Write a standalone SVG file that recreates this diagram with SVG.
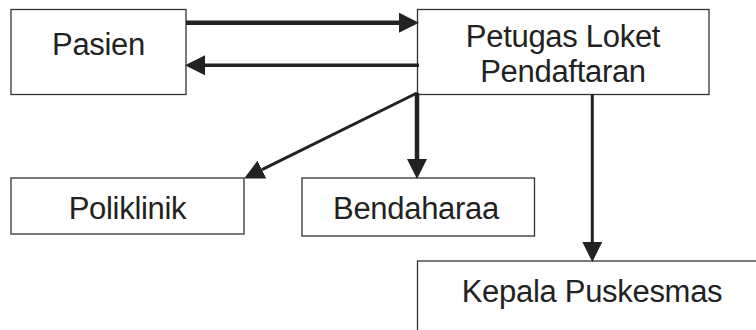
<svg xmlns="http://www.w3.org/2000/svg" width="756" height="330" viewBox="0 0 756 330">
<style>
.box{fill:#fff;stroke:#333;stroke-width:1.3}
.lbl{font-family:"Liberation Sans",Arial,sans-serif;font-size:31px;fill:#222;text-anchor:middle;letter-spacing:-0.3px}
.c{stroke:#222;fill:none}
</style>
<defs>
<marker id="ah" markerUnits="userSpaceOnUse" markerWidth="20" markerHeight="20" refX="0" refY="9.5" orient="auto" viewBox="0 0 19 19">
<path d="M0,0 L19,9.5 L0,19 z" fill="#222"/>
</marker>
</defs>
<rect width="756" height="330" fill="#fff"/>
<g id="pasien"><rect class="box" x="11" y="9.5" width="175" height="85"/><text class="lbl" x="98.5" y="54.5">Pasien</text></g>
<g id="petugas"><rect class="box" x="417.5" y="9.5" width="291.5" height="85"/><text class="lbl" x="563" y="47">Petugas Loket</text><text class="lbl" x="563" y="82">Pendaftaran</text></g>
<g id="poliklinik"><rect class="box" x="11" y="178" width="233" height="56"/><text class="lbl" x="127.5" y="218.5">Poliklinik</text></g>
<g id="bendaharaa"><rect class="box" x="302" y="178" width="232.5" height="58"/><text class="lbl" x="416" y="218.5">Bendaharaa</text></g>
<g id="kepala"><rect class="box" x="417.5" y="261" width="360" height="90"/><text class="lbl" x="592" y="302">Kepala Puskesmas</text></g>
<g id="connectors">
<line class="c" x1="186" y1="22.7" x2="399" y2="22.7" stroke-width="4.5" marker-end="url(#ah)"/>
<line class="c" x1="419" y1="65.3" x2="205" y2="65.3" stroke-width="3.5" marker-end="url(#ah)"/>
<line class="c" x1="417" y1="93" x2="417" y2="159" stroke-width="4.5" marker-end="url(#ah)"/>
<line class="c" x1="417" y1="93" x2="262" y2="169.6" stroke-width="3" marker-end="url(#ah)"/>
<line class="c" x1="592.3" y1="94" x2="592.3" y2="242" stroke-width="3" marker-end="url(#ah)"/>
</g>
</svg>
